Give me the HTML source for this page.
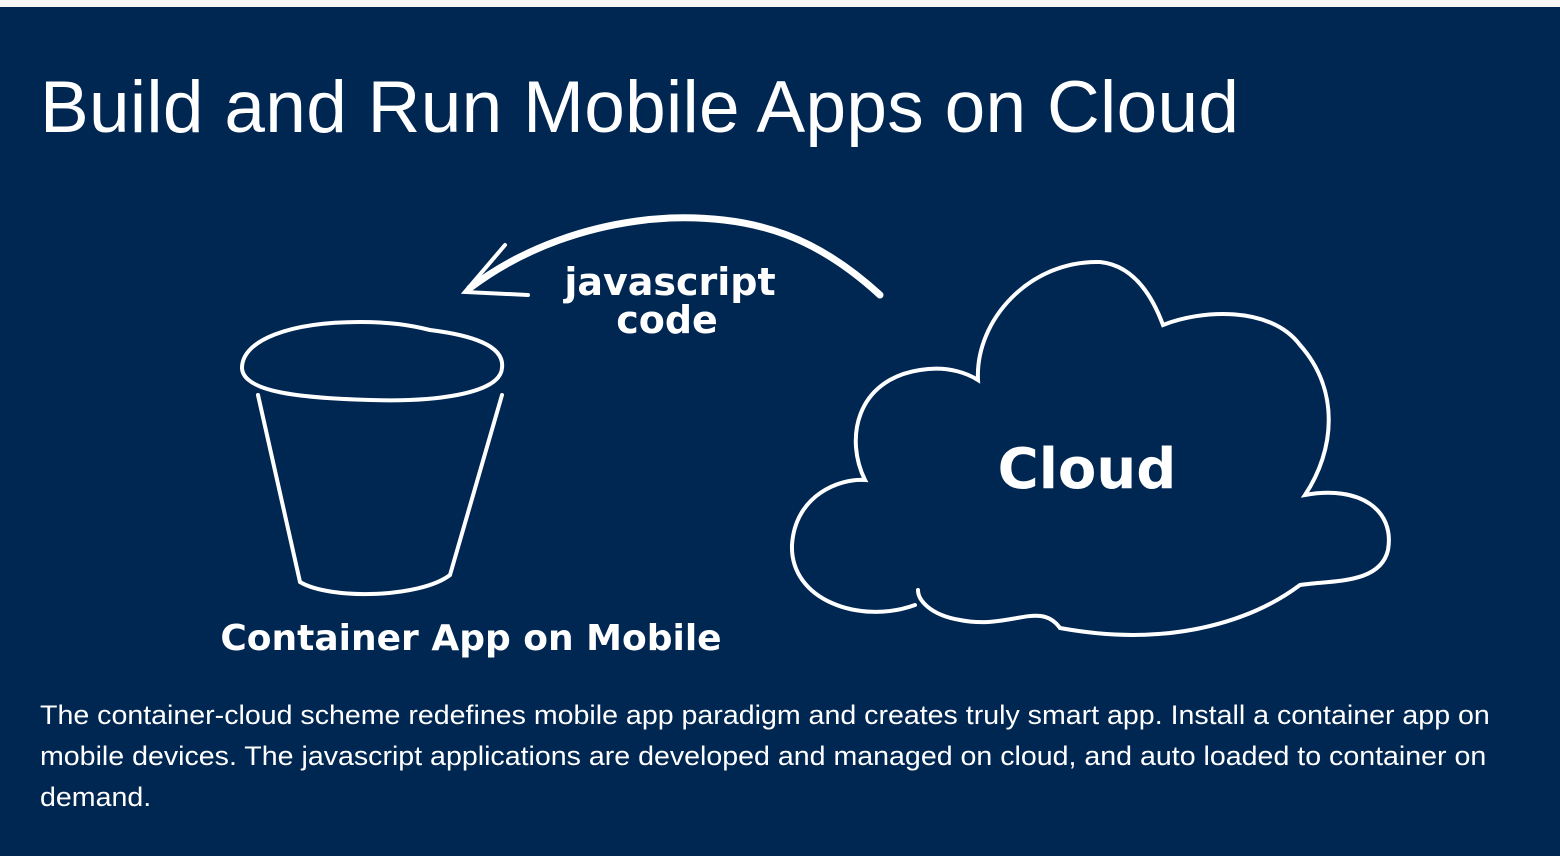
<!DOCTYPE html>
<html><head><meta charset="utf-8"><style>
html,body{margin:0;padding:0;width:1560px;height:856px;overflow:hidden;background:#f7f7f7}
.main{position:absolute;left:0;top:7px;width:1560px;height:849px;background:#002652}
h1{position:absolute;left:40px;top:66px;margin:0;font:73px "Liberation Sans",sans-serif;color:#fff;white-space:nowrap;letter-spacing:0.3px}
p{position:absolute;left:40px;top:695px;margin:0;font:26.5px/41px "Liberation Sans",sans-serif;color:#fff;white-space:nowrap;transform:scaleX(1.078);transform-origin:0 0}
svg{position:absolute;left:0;top:0}
</style></head><body>
<div class="main"></div>
<h1>Build and Run Mobile Apps on Cloud</h1>
<svg width="1560" height="856" fill="none" stroke="#fff" stroke-width="4" stroke-linecap="round">
<path d="M880,295 C820,240 760,215 670,218 C590,222 520,250 470,288" stroke-width="7"/>
<path d="M505,245 L465,292 L528,295" stroke-width="4"/>
<path d="M430,330 C470,335 505,345 502,368 C500,395 430,402 370,400 C300,398 243,392 242,368 C242,340 290,322 360,322 C390,322 410,325 430,330"/>
<path d="M258,395 L300,582 C330,600 420,598 450,575 L502,395"/>
<path d="M915,605 C860,625 790,600 792,545 C795,495 840,478 865,480 C845,440 855,380 920,370 C950,365 970,375 978,380 C975,320 1030,260 1100,262 C1130,265 1150,290 1163,325 C1200,310 1270,305 1300,345 C1340,390 1335,450 1305,495 C1360,485 1395,510 1388,550 C1380,585 1330,580 1300,585 C1260,615 1180,650 1060,628 C1040,600 1010,630 960,620 C930,615 918,600 918,590"/>
<g fill="#fff" stroke="none" font-family="'DejaVu Sans',sans-serif" font-weight="bold">
<text x="670" y="295" font-size="38" text-anchor="middle">javascript</text>
<text x="667" y="333" font-size="38" text-anchor="middle">code</text>
<text x="1087" y="488" font-size="56" text-anchor="middle">Cloud</text>
<text x="471" y="650" font-size="36" text-anchor="middle">Container App on Mobile</text>
</g>
</svg>
<p>The container-cloud scheme redefines mobile app paradigm and creates truly smart app. Install a container app on<br>mobile devices. The javascript applications are developed and managed on cloud, and auto loaded to container on<br>demand.</p>
</body></html>
